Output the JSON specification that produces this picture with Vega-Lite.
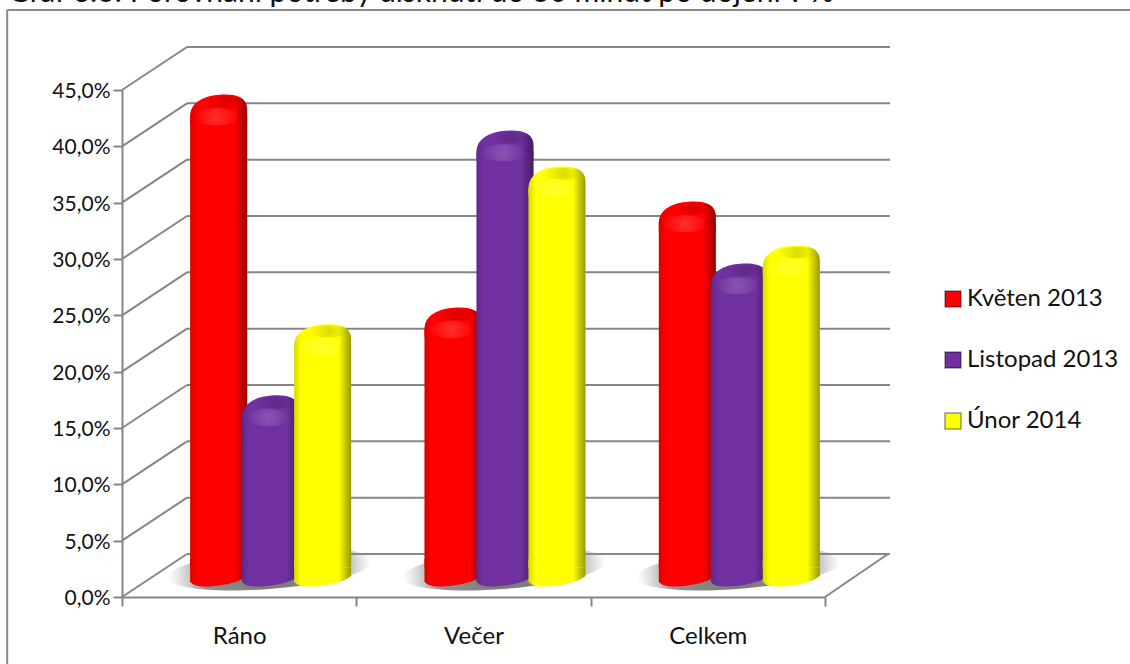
{
  "$schema": "https://vega.github.io/schema/vega-lite/v6.json",
  "width": 703,
  "height": 507,
  "autosize": "none",
  "padding": {"left": 122, "top": 90, "right": 305, "bottom": 67},
  "background": "white",
  "config": {"view": {"stroke": null}, "font": "Lato"},
  "title": {
    "text": "Graf 6.3: Porovnání potřeby dlsknutí do 30 minut po dojení v %",
    "anchor": "start", "frame": "group", "dx": -114, "offset": 1,
    "fontSize": 30, "fontWeight": "normal", "color": "#111111", "font": "Lato"
  },
  "datasets": {
    "mereni": [
      {"obdobi": "Ráno", "serie": "Květen 2013", "podil": 41.6},
      {"obdobi": "Ráno", "serie": "Listopad 2013", "podil": 14.9},
      {"obdobi": "Ráno", "serie": "Únor 2014", "podil": 21.2},
      {"obdobi": "Večer", "serie": "Květen 2013", "podil": 22.7},
      {"obdobi": "Večer", "serie": "Listopad 2013", "podil": 38.4},
      {"obdobi": "Večer", "serie": "Únor 2014", "podil": 35.2},
      {"obdobi": "Celkem", "serie": "Květen 2013", "podil": 32.1},
      {"obdobi": "Celkem", "serie": "Listopad 2013", "podil": 26.6},
      {"obdobi": "Celkem", "serie": "Únor 2014", "podil": 28.2}
    ],
    "mrizka": [
      {"hladina": 0}, {"hladina": 5}, {"hladina": 10}, {"hladina": 15}, {"hladina": 20},
      {"hladina": 25}, {"hladina": 30}, {"hladina": 35}, {"hladina": 40}, {"hladina": 45}
    ],
    "obdobi": [{"obdobi": "Ráno"}, {"obdobi": "Večer"}, {"obdobi": "Celkem"}]
  },
  "resolve": {"scale": {"x": "independent", "y": "independent", "color": "independent"}, "axis": {"x": "independent", "y": "independent"}},
  "layer": [
    {
      "description": "Frame, back wall and floor of the 3D box",
      "layer": [
        {
          "data": {"name": "mrizka"},
          "mark": {"type": "rule", "color": "#868686", "strokeWidth": 2, "xOffset": 65, "x2Offset": 65, "yOffset": -43},
          "encoding": {
            "x": {"datum": 0, "type": "quantitative", "scale": {"domain": [0, 3], "nice": false, "zero": false}, "axis": null},
            "x2": {"datum": 3},
            "y": {"field": "hladina", "type": "quantitative", "title": null,
              "scale": {"domain": [0, 45], "nice": false, "zero": false},
              "axis": {
                "orient": "left",
                "values": [0, 5, 10, 15, 20, 25, 30, 35, 40, 45],
                "labelExpr": "replace(format(datum.value, '.1f'), '.', ',') + '%'",
                "labelFontSize": 21, "labelColor": "#111111", "labelPadding": 3, "labelFont": "Lato", "labelOffset": 1.5,
                "tickSize": 9, "tickWidth": 2, "tickColor": "#868686",
                "domainWidth": 2, "domainColor": "#868686", "grid": false
              }
            }
          }
        },
        {
          "data": {"values": [{"okraj": "levy"}]},
          "mark": {"type": "rule", "color": "#8a8a8a", "strokeWidth": 2},
          "encoding": {
            "x": {"datum": -0.49, "type": "quantitative"},
            "y": {"datum": 52.1, "type": "quantitative"},
            "y2": {"datum": -10}
          }
        },
        {
          "data": {"values": [{"okraj": "horni"}]},
          "mark": {"type": "rule", "color": "#8a8a8a", "strokeWidth": 2},
          "encoding": {
            "x": {"datum": -0.49, "type": "quantitative"},
            "x2": {"datum": 4.5},
            "y": {"datum": 52.1, "type": "quantitative"}
          }
        },
        {
          "data": {"name": "mrizka"},
          "mark": {"type": "rule", "color": "#868686", "strokeWidth": 2, "x2Offset": 65, "y2Offset": -43},
          "encoding": {
            "x": {"datum": 0, "type": "quantitative"},
            "x2": {"datum": 0},
            "y": {"field": "hladina", "type": "quantitative"},
            "y2": {"field": "hladina"}
          }
        },
        {
          "data": {"values": [{"hladina": 0}]},
          "mark": {"type": "rule", "color": "#868686", "strokeWidth": 2, "x2Offset": 63, "y2Offset": -43},
          "encoding": {
            "x": {"datum": 3, "type": "quantitative"},
            "x2": {"datum": 3},
            "y": {"field": "hladina", "type": "quantitative"},
            "y2": {"field": "hladina"}
          }
        }
      ]
    },
    {
      "description": "Cylinders standing half way into the box depth; each series is its own group so later series sit in front",
      "encoding": {
        "x": {"field": "obdobi", "type": "nominal", "title": null, "sort": ["Ráno", "Večer", "Celkem"],
          "scale": {"paddingInner": 0, "paddingOuter": 0},
          "axis": {
            "orient": "bottom",
            "labelAngle": 0, "labelFontSize": 24, "labelColor": "#111111", "labelFont": "Lato", "labelPadding": 18,
            "tickBand": "extent", "tickSize": 9, "tickWidth": 2, "tickColor": "#868686",
            "domainWidth": 2, "domainColor": "#868686", "grid": false
          }
        }
      },
      "layer": [
        {
          "data": {"name": "obdobi"},
          "description": "Soft shadow on the floor under each group",
          "mark": {"type": "point", "filled": true, "opacity": 1,
            "shape": "M-1,0.083 A1,0.19 -4.7 1,1 1,-0.083 A1,0.19 -4.7 1,1 -1,0.083Z",
            "size": 42000, "xOffset": 31,
            "fill": {"gradient": "radial", "x1": 0.5, "y1": 0.5, "r1": 0, "x2": 0.5, "y2": 0.5, "r2": 0.5,
              "stops": [{"offset": 0, "color": "rgba(100,100,100,0.9)"}, {"offset": 0.66, "color": "rgba(120,120,120,0.8)"}, {"offset": 1, "color": "rgba(170,170,170,0)"}]}
          },
          "encoding": {"y": {"datum": 0.6, "type": "quantitative", "title": null,
            "scale": {"domain": [0, 45], "range": [486, -21], "nice": false, "zero": false}, "axis": null}}
        },
        {
          "data": {"name": "mereni"},
          "encoding": {
            "xOffset": {"field": "serie", "type": "nominal",
              "scale": {"domain": ["Květen 2013", "Listopad 2013", "Únor 2014"], "range": [31.5, 265.8], "paddingOuter": 0.753, "paddingInner": 0}},
            "color": {"field": "serie", "type": "nominal", "title": null,
              "scale": {"domain": ["Květen 2013", "Listopad 2013", "Únor 2014"], "range": ["#ff0000", "#7030a0", "#ffff00"]},
              "legend": {
                "orient": "none", "legendX": 819, "legendY": 197, "symbolType": "square", "symbolSize": 256, "rowPadding": 37,
                "labelFontSize": 24, "labelColor": "#111111", "labelFont": "Lato", "labelOffset": 2,
                "symbolStrokeColor": "#00000066", "symbolStrokeWidth": 1.5
              }
            },
            "y": {"field": "podil", "type": "quantitative", "stack": null, "title": null, "axis": null}
          },
          "layer": [
            {
              "transform": [{"filter": "datum.serie === 'Květen 2013'"}],
              "layer": [
                {"mark": {"type": "point", "filled": true, "opacity": 1, "size": 3249, "shape": "M-1,-0.6 L-1,0.18 C-0.95,0.3 -0.75,0.37 -0.5,0.37 C0,0.37 0.7,0.25 1,0 L1,-0.6Z"}, "encoding": {"y": {"datum": 0, "type": "quantitative"}}},
                {"mark": {"type": "point", "filled": true, "opacity": 1, "size": 3249, "shape": "M-1,-0.3 L-1,0.18 C-0.95,0.3 -0.75,0.37 -0.5,0.37 C0,0.37 0.7,0.25 1,0 L1,-0.3Z",
                  "fill": {"gradient": "linear", "x1": 0, "x2": 1, "y1": 0, "y2": 0, "stops": [{"offset": 0, "color": "rgba(0,0,0,0.15)"}, {"offset": 0.12, "color": "rgba(0,0,0,0)"}, {"offset": 0.78, "color": "rgba(0,0,0,0)"}, {"offset": 1, "color": "rgba(0,0,0,0.4)"}]}},
                  "encoding": {"color": {"value": null}, "y": {"datum": 0, "type": "quantitative"}}},
                {"mark": {"type": "point", "filled": true, "opacity": 1, "size": 3249, "shape": "M-1,0.3 C-1,-0.15 -0.55,-0.45 0.25,-0.45 C0.7,-0.45 1,-0.3 1,0.08 L1,0.6 L-1,0.6Z"}},
                {"mark": {"type": "bar", "width": 57, "yOffset": 8.5, "y2Offset": -8.5}, "encoding": {"y2": {"datum": 0}}},
                {"mark": {"type": "bar", "width": 57, "yOffset": 8.5, "y2Offset": -8.5,
                  "fill": {"gradient": "linear", "x1": 0, "x2": 1, "y1": 0, "y2": 0, "stops": [{"offset": 0, "color": "rgba(0,0,0,0.15)"}, {"offset": 0.12, "color": "rgba(0,0,0,0)"}, {"offset": 0.78, "color": "rgba(0,0,0,0)"}, {"offset": 1, "color": "rgba(0,0,0,0.4)"}]}},
                  "encoding": {"color": {"value": null}, "y2": {"datum": 0}}},
                {"mark": {"type": "point", "filled": true, "opacity": 1, "size": 3249, "shape": "M-1,0.3 C-1,-0.15 -0.55,-0.45 0.25,-0.45 C0.7,-0.45 1,-0.3 1,0.08 L1,0.3Z",
                  "fill": {"gradient": "linear", "x1": 0, "x2": 1, "y1": 0, "y2": 0, "stops": [{"offset": 0, "color": "rgba(0,0,0,0.15)"}, {"offset": 0.12, "color": "rgba(0,0,0,0)"}, {"offset": 0.78, "color": "rgba(0,0,0,0)"}, {"offset": 1, "color": "rgba(0,0,0,0.4)"}]}},
                  "encoding": {"color": {"value": null}}},
                {"mark": {"type": "point", "filled": true, "opacity": 1, "size": 3249, "shape": "M-0.48,-0.2 A0.7,0.2 0 1,1 0.92,-0.2 A0.7,0.2 0 1,1 -0.48,-0.2Z",
                  "fill": {"gradient": "radial", "x1": 0.5, "y1": 0.5, "r1": 0, "x2": 0.5, "y2": 0.5, "r2": 0.5, "stops": [{"offset": 0, "color": "rgba(0,0,0,0.14)"}, {"offset": 1, "color": "rgba(0,0,0,0)"}]}},
                  "encoding": {"color": {"value": null}}},
                {"mark": {"type": "point", "filled": true, "opacity": 1, "size": 3249, "shape": "M-0.87,0.33 A0.8,0.3 0 1,1 0.73,0.33 A0.8,0.3 0 1,1 -0.87,0.33Z",
                  "fill": {"gradient": "radial", "x1": 0.5, "y1": 0.5, "r1": 0, "x2": 0.5, "y2": 0.5, "r2": 0.5, "stops": [{"offset": 0, "color": "rgba(255,255,255,0.18)"}, {"offset": 1, "color": "rgba(255,255,255,0)"}]}},
                  "encoding": {"color": {"value": null}}}
              ]
            },
            {
              "transform": [{"filter": "datum.serie === 'Listopad 2013'"}],
              "layer": [
                {"mark": {"type": "point", "filled": true, "opacity": 1, "size": 3249, "shape": "M-1,-0.6 L-1,0.18 C-0.95,0.3 -0.75,0.37 -0.5,0.37 C0,0.37 0.7,0.25 1,0 L1,-0.6Z"}, "encoding": {"y": {"datum": 0, "type": "quantitative"}}},
                {"mark": {"type": "point", "filled": true, "opacity": 1, "size": 3249, "shape": "M-1,-0.3 L-1,0.18 C-0.95,0.3 -0.75,0.37 -0.5,0.37 C0,0.37 0.7,0.25 1,0 L1,-0.3Z",
                  "fill": {"gradient": "linear", "x1": 0, "x2": 1, "y1": 0, "y2": 0, "stops": [{"offset": 0, "color": "rgba(0,0,0,0.15)"}, {"offset": 0.12, "color": "rgba(0,0,0,0)"}, {"offset": 0.78, "color": "rgba(0,0,0,0)"}, {"offset": 1, "color": "rgba(0,0,0,0.4)"}]}},
                  "encoding": {"color": {"value": null}, "y": {"datum": 0, "type": "quantitative"}}},
                {"mark": {"type": "point", "filled": true, "opacity": 1, "size": 3249, "shape": "M-1,0.3 C-1,-0.15 -0.55,-0.45 0.25,-0.45 C0.7,-0.45 1,-0.3 1,0.08 L1,0.6 L-1,0.6Z"}},
                {"mark": {"type": "bar", "width": 57, "yOffset": 8.5, "y2Offset": -8.5}, "encoding": {"y2": {"datum": 0}}},
                {"mark": {"type": "bar", "width": 57, "yOffset": 8.5, "y2Offset": -8.5,
                  "fill": {"gradient": "linear", "x1": 0, "x2": 1, "y1": 0, "y2": 0, "stops": [{"offset": 0, "color": "rgba(0,0,0,0.15)"}, {"offset": 0.12, "color": "rgba(0,0,0,0)"}, {"offset": 0.78, "color": "rgba(0,0,0,0)"}, {"offset": 1, "color": "rgba(0,0,0,0.4)"}]}},
                  "encoding": {"color": {"value": null}, "y2": {"datum": 0}}},
                {"mark": {"type": "point", "filled": true, "opacity": 1, "size": 3249, "shape": "M-1,0.3 C-1,-0.15 -0.55,-0.45 0.25,-0.45 C0.7,-0.45 1,-0.3 1,0.08 L1,0.3Z",
                  "fill": {"gradient": "linear", "x1": 0, "x2": 1, "y1": 0, "y2": 0, "stops": [{"offset": 0, "color": "rgba(0,0,0,0.15)"}, {"offset": 0.12, "color": "rgba(0,0,0,0)"}, {"offset": 0.78, "color": "rgba(0,0,0,0)"}, {"offset": 1, "color": "rgba(0,0,0,0.4)"}]}},
                  "encoding": {"color": {"value": null}}},
                {"mark": {"type": "point", "filled": true, "opacity": 1, "size": 3249, "shape": "M-0.48,-0.2 A0.7,0.2 0 1,1 0.92,-0.2 A0.7,0.2 0 1,1 -0.48,-0.2Z",
                  "fill": {"gradient": "radial", "x1": 0.5, "y1": 0.5, "r1": 0, "x2": 0.5, "y2": 0.5, "r2": 0.5, "stops": [{"offset": 0, "color": "rgba(0,0,0,0.14)"}, {"offset": 1, "color": "rgba(0,0,0,0)"}]}},
                  "encoding": {"color": {"value": null}}},
                {"mark": {"type": "point", "filled": true, "opacity": 1, "size": 3249, "shape": "M-0.87,0.33 A0.8,0.3 0 1,1 0.73,0.33 A0.8,0.3 0 1,1 -0.87,0.33Z",
                  "fill": {"gradient": "radial", "x1": 0.5, "y1": 0.5, "r1": 0, "x2": 0.5, "y2": 0.5, "r2": 0.5, "stops": [{"offset": 0, "color": "rgba(255,255,255,0.18)"}, {"offset": 1, "color": "rgba(255,255,255,0)"}]}},
                  "encoding": {"color": {"value": null}}}
              ]
            },
            {
              "transform": [{"filter": "datum.serie === 'Únor 2014'"}],
              "layer": [
                {"mark": {"type": "point", "filled": true, "opacity": 1, "size": 3249, "shape": "M-1,-0.6 L-1,0.18 C-0.95,0.3 -0.75,0.37 -0.5,0.37 C0,0.37 0.7,0.25 1,0 L1,-0.6Z"}, "encoding": {"y": {"datum": 0, "type": "quantitative"}}},
                {"mark": {"type": "point", "filled": true, "opacity": 1, "size": 3249, "shape": "M-1,-0.3 L-1,0.18 C-0.95,0.3 -0.75,0.37 -0.5,0.37 C0,0.37 0.7,0.25 1,0 L1,-0.3Z",
                  "fill": {"gradient": "linear", "x1": 0, "x2": 1, "y1": 0, "y2": 0, "stops": [{"offset": 0, "color": "rgba(0,0,0,0.15)"}, {"offset": 0.12, "color": "rgba(0,0,0,0)"}, {"offset": 0.78, "color": "rgba(0,0,0,0)"}, {"offset": 1, "color": "rgba(0,0,0,0.4)"}]}},
                  "encoding": {"color": {"value": null}, "y": {"datum": 0, "type": "quantitative"}}},
                {"mark": {"type": "point", "filled": true, "opacity": 1, "size": 3249, "shape": "M-1,0.3 C-1,-0.15 -0.55,-0.45 0.25,-0.45 C0.7,-0.45 1,-0.3 1,0.08 L1,0.6 L-1,0.6Z"}},
                {"mark": {"type": "bar", "width": 57, "yOffset": 8.5, "y2Offset": -8.5}, "encoding": {"y2": {"datum": 0}}},
                {"mark": {"type": "bar", "width": 57, "yOffset": 8.5, "y2Offset": -8.5,
                  "fill": {"gradient": "linear", "x1": 0, "x2": 1, "y1": 0, "y2": 0, "stops": [{"offset": 0, "color": "rgba(0,0,0,0.15)"}, {"offset": 0.12, "color": "rgba(0,0,0,0)"}, {"offset": 0.78, "color": "rgba(0,0,0,0)"}, {"offset": 1, "color": "rgba(0,0,0,0.4)"}]}},
                  "encoding": {"color": {"value": null}, "y2": {"datum": 0}}},
                {"mark": {"type": "point", "filled": true, "opacity": 1, "size": 3249, "shape": "M-1,0.3 C-1,-0.15 -0.55,-0.45 0.25,-0.45 C0.7,-0.45 1,-0.3 1,0.08 L1,0.3Z",
                  "fill": {"gradient": "linear", "x1": 0, "x2": 1, "y1": 0, "y2": 0, "stops": [{"offset": 0, "color": "rgba(0,0,0,0.15)"}, {"offset": 0.12, "color": "rgba(0,0,0,0)"}, {"offset": 0.78, "color": "rgba(0,0,0,0)"}, {"offset": 1, "color": "rgba(0,0,0,0.4)"}]}},
                  "encoding": {"color": {"value": null}}},
                {"mark": {"type": "point", "filled": true, "opacity": 1, "size": 3249, "shape": "M-0.48,-0.2 A0.7,0.2 0 1,1 0.92,-0.2 A0.7,0.2 0 1,1 -0.48,-0.2Z",
                  "fill": {"gradient": "radial", "x1": 0.5, "y1": 0.5, "r1": 0, "x2": 0.5, "y2": 0.5, "r2": 0.5, "stops": [{"offset": 0, "color": "rgba(0,0,0,0.14)"}, {"offset": 1, "color": "rgba(0,0,0,0)"}]}},
                  "encoding": {"color": {"value": null}}},
                {"mark": {"type": "point", "filled": true, "opacity": 1, "size": 3249, "shape": "M-0.87,0.33 A0.8,0.3 0 1,1 0.73,0.33 A0.8,0.3 0 1,1 -0.87,0.33Z",
                  "fill": {"gradient": "radial", "x1": 0.5, "y1": 0.5, "r1": 0, "x2": 0.5, "y2": 0.5, "r2": 0.5, "stops": [{"offset": 0, "color": "rgba(255,255,255,0.18)"}, {"offset": 1, "color": "rgba(255,255,255,0)"}]}},
                  "encoding": {"color": {"value": null}}}
              ]
            }
          ]
        }
      ]
    }
  ]
}
